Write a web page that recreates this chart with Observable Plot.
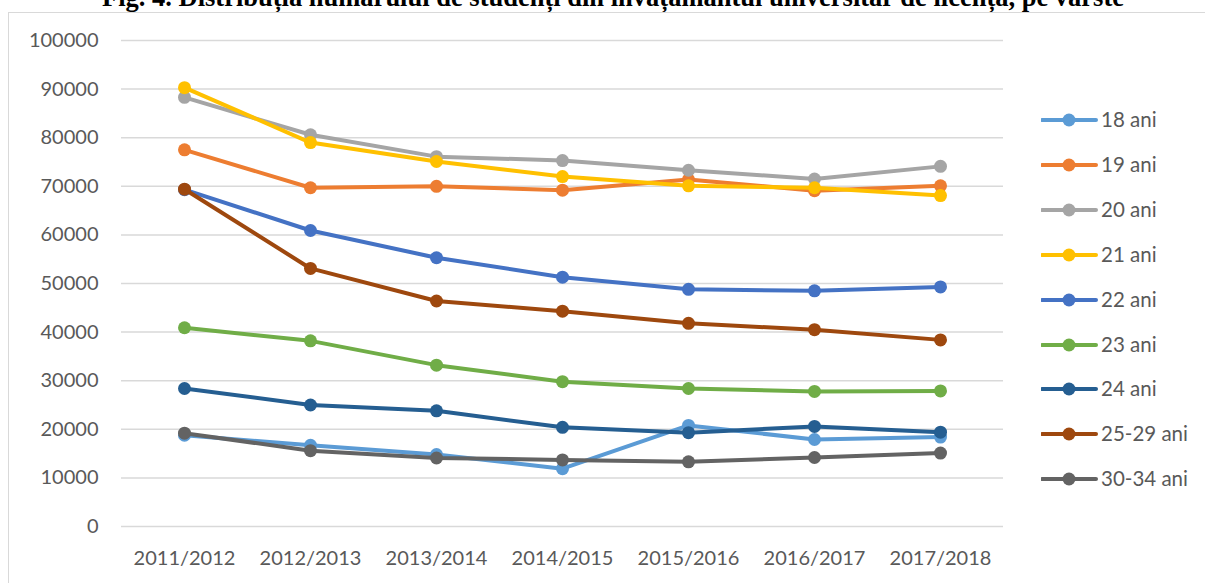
<!DOCTYPE html>
<html>
<head>
<meta charset="utf-8">
<script src="https://cdn.jsdelivr.net/npm/d3@7"></script>
<script src="https://cdn.jsdelivr.net/npm/@observablehq/plot@0.6"></script>
<style>
  html, body { margin: 0; padding: 0; background: #fff; overflow: hidden; }
  body { width: 1205px; height: 583px; position: relative; font-family: Lato, "Open Sans", sans-serif; }
  #title { position: absolute; left: 0; top: -18px; width: 1226px; text-align: center; font-family: "Liberation Serif", "Times New Roman", serif; font-weight: bold; font-size: 26.5px; line-height: 30px; color: #000; white-space: nowrap; }
  #frame { position: absolute; left: 8px; top: 12px; width: 1400px; height: 800px; border-top: 1.5px solid #d9d9d9; border-left: 1.5px solid #d9d9d9; }
  #chart { position: absolute; left: 9px; top: 14px; }
  #legend { position: absolute; left: 1041px; top: 0; }
  .item { position: absolute; left: 0; height: 20px; width: 160px; }
  .item svg { position: absolute; left: 0; top: 0; }
  .item span { position: absolute; left: 60px; top: -3px; font-size: 20.5px; color: #595959; white-space: nowrap; font-family: Lato, sans-serif; }
</style>
</head>
<body>
<div id="title">Fig. 4. Distribuția numărului de studenți din învățământul universitar de licență, pe vârste</div>
<div id="frame"></div>
<div id="chart"></div>
<div id="legend"></div>
<script>
const years = ["2011/2012","2012/2013","2013/2014","2014/2015","2015/2016","2016/2017","2017/2018"];
const seriesNames = ["18 ani","19 ani","20 ani","21 ani","22 ani","23 ani","24 ani","25-29 ani","30-34 ani"];
const colors = ["#5B9BD5","#ED7D31","#A5A5A5","#FFC000","#4472C4","#70AD47","#255E91","#9E480E","#636363"];

const v18   = [18800, 16700, 14800, 11900, 20800, 17900, 18400];
const v19   = [77500, 69700, 70000, 69200, 71400, 69100, 70100];
const v20   = [88300, 80600, 76100, 75300, 73300, 71500, 74100];
const v21   = [90300, 79000, 75100, 72000, 70100, 69700, 68100];
const v22   = [69300, 60900, 55300, 51300, 48800, 48500, 49300];
const v23   = [40900, 38200, 33200, 29800, 28400, 27800, 27900];
const v24   = [28400, 25000, 23800, 20400, 19300, 20600, 19400];
const v2529 = [69400, 53100, 46400, 44300, 41800, 40500, 38400];
const v3034 = [19200, 15600, 14100, 13700, 13300, 14200, 15100];

const yTicks = [0,10000,20000,30000,40000,50000,60000,70000,80000,90000,100000];

const allValues = [v18, v19, v20, v21, v22, v23, v24, v2529, v3034];
const data = [];
seriesNames.forEach((s, i) => {
  years.forEach((y, j) => data.push({series: s, year: y, value: allValues[i][j]}));
});

const chart = Plot.plot({
  width: 1196,
  height: 569,
  marginLeft: 112,
  marginRight: 202,
  marginTop: 26,
  marginBottom: 57,
  style: {fontFamily: "Lato, sans-serif", fontSize: "20px", color: "#595959", background: "transparent", overflow: "visible"},
  x: {type: "point", domain: years, padding: 0.5, label: null},
  y: {domain: [0, 100000], label: null},
  color: {domain: seriesNames, range: colors},
  marks: [
    Plot.ruleY(yTicks, {stroke: "#d9d9d9", strokeWidth: 1.5, strokeOpacity: 1}),
    Plot.axisY({ticks: yTicks, tickSize: 0, tickPadding: 23, tickFormat: d => String(d), fill: "#595959", fontSize: 20, label: null}),
    Plot.axisX({tickSize: 0, tickPadding: 24, fill: "#595959", fontSize: 20, label: null}),
    ...seriesNames.map(s => Plot.line(data.filter(d => d.series === s), {x: "year", y: "value", stroke: "series", strokeWidth: 4, strokeLinejoin: "round", strokeLinecap: "round"})).flatMap((ln, i) => [ln, Plot.dot(data.filter(d => d.series === seriesNames[i]), {x: "year", y: "value", fill: "series", r: 6.5, stroke: "none"})])
  ]
});
document.getElementById("chart").appendChild(chart);

const legend = document.getElementById("legend");
seriesNames.forEach((s, i) => {
  const yc = 120 + i * 44.9;
  const div = document.createElement("div");
  div.className = "item";
  div.style.top = (yc - 10) + "px";
  div.innerHTML = `<svg width="60" height="20"><line x1="1" y1="10" x2="55" y2="10" stroke="${colors[i]}" stroke-width="4" stroke-linecap="round"/><circle cx="28" cy="10" r="6.5" fill="${colors[i]}"/></svg><span>${s}</span>`;
  legend.appendChild(div);
});
</script>
</body>
</html>
